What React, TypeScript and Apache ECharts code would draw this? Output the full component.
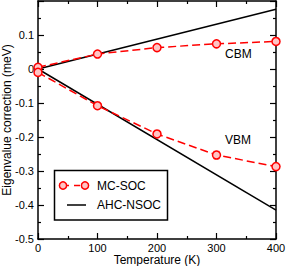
import React, { useEffect, useRef } from "react";
import * as echarts from "echarts";

const temps = [0, 100, 200, 300, 400];
const cbmMC = [0.005, 0.044, 0.063, 0.074, 0.081];
const vbmMC = [-0.01, -0.108, -0.191, -0.253, -0.287];
const vbmErr = [0, 0, 0, 0.01, 0];
const ahcT = [0, 400];
const cbmAHC = [0, 0.176];
const vbmAHC = [0, -0.415];
const legendNames = ["MC-SOC", "AHC-NSOC"];

const font = "Liberation Sans, Arial, Helvetica, sans-serif";

export default function App() {
  const ref = useRef<HTMLDivElement>(null);
  useEffect(() => {
    const chart = echarts.init(ref.current!, null, { renderer: "svg" });
    const red = "#ff0000";
    const pink = "#ffc4c4";
    const mcStyle = (vals: number[]) => ({
      name: legendNames[0],
      type: "line",
      data: temps.map((t, i) => [t, vals[i]]),
      symbol: "circle",
      symbolSize: 8,
      showAllSymbol: true,
      lineStyle: { color: red, width: 1.5, type: [8, 4] },
      itemStyle: { color: pink, borderColor: red, borderWidth: 1.5 },
      z: 3,
    });
    const ahcStyle = (vals: number[]) => ({
      name: legendNames[1],
      type: "line",
      data: ahcT.map((t, i) => [t, vals[i]]),
      symbol: "none",
      lineStyle: { color: "#000", width: 1.5 },
      itemStyle: { color: "#000" },
      z: 2,
    });
    const axisCommon = {
      axisLine: { show: true, onZero: false, lineStyle: { color: "#000", width: 1.5 } },
      axisTick: { show: true, inside: true, length: 6, lineStyle: { color: "#000", width: 1.2 } },
      minorTick: { show: true, splitNumber: 2, length: 3, lineStyle: { color: "#000", width: 1.2 } },
      splitLine: { show: false },
    };
    const r1 = 185.5;
    const r2 = 205;
    chart.setOption({
      animation: false,
      grid: { left: 38, right: 10, top: 1, bottom: 27, outerBoundsMode: "none", containLabel: false },
      xAxis: [
        {
          type: "value",
          min: 0,
          max: 400,
          interval: 100,
          position: "bottom",
          name: "Temperature (K)",
          nameLocation: "middle",
          nameGap: 15,
          nameMoveOverlap: false,
          nameTextStyle: { fontFamily: font, fontSize: 12, lineHeight: 12, color: "#000" },
          axisLabel: { fontFamily: font, fontSize: 11, lineHeight: 11, color: "#000", margin: 3 },
          ...axisCommon,
        },
        {
          type: "value",
          min: 0,
          max: 400,
          interval: 100,
          position: "top",
          axisLabel: { show: false },
          ...axisCommon,
        },
      ],
      yAxis: [
        {
          type: "value",
          min: -0.5,
          max: 0.2,
          interval: 0.1,
          position: "left",
          name: "Eigenvalue correction (meV)",
          nameLocation: "middle",
          nameGap: 25,
          nameMoveOverlap: false,
          nameTextStyle: { fontFamily: font, fontSize: 12, color: "#000" },
          axisLabel: {
            fontFamily: font,
            fontSize: 11,
            color: "#000",
            margin: 4,
            formatter: (v: number) => {
              const r = Math.round(v * 10) / 10;
              if (r >= 0.2) return "";
              if (r === 0) return "0";
              return r.toFixed(1);
            },
          },
          ...axisCommon,
        },
        {
          type: "value",
          min: -0.5,
          max: 0.2,
          interval: 0.1,
          position: "right",
          axisLabel: { show: false },
          ...axisCommon,
        },
      ],
      graphic: [
        { type: "text", left: 225, top: 48, style: { text: "CBM", font: `12px ${font}`, fill: "#000" } },
        { type: "text", left: 225, top: 134, style: { text: "VBM", font: `12px ${font}`, fill: "#000" } },
        {
          type: "rect",
          shape: { x: 54.5, y: 170.5, width: 113, height: 49.5 },
          style: { fill: "#fff", stroke: "#000", lineWidth: 1.5 },
          z: 10,
        },
        {
          type: "line",
          shape: { x1: 63, y1: r1, x2: 85, y2: r1 },
          style: { stroke: red, lineWidth: 1.5, lineDash: [6, 5] },
          z: 11,
        },
        { type: "circle", shape: { cx: 63, cy: r1, r: 3.6 }, style: { fill: pink, stroke: red, lineWidth: 1.5 }, z: 12 },
        { type: "circle", shape: { cx: 85, cy: r1, r: 3.6 }, style: { fill: pink, stroke: red, lineWidth: 1.5 }, z: 12 },
        {
          type: "text",
          x: 97,
          y: r1,
          style: { text: legendNames[0], font: `12px ${font}`, fill: "#000", verticalAlign: "middle" },
          z: 12,
        },
        {
          type: "line",
          shape: { x1: 67, y1: r2, x2: 86, y2: r2 },
          style: { stroke: "#000", lineWidth: 1.5 },
          z: 11,
        },
        {
          type: "text",
          x: 97,
          y: r2,
          style: { text: legendNames[1], font: `12px ${font}`, fill: "#000", verticalAlign: "middle" },
          z: 12,
        },
      ],
      series: [
        ahcStyle(cbmAHC),
        ahcStyle(vbmAHC),
        mcStyle(cbmMC),
        mcStyle(vbmMC),
        {
          type: "custom",
          data: temps.map((t, i) => [t, vbmMC[i], vbmErr[i]]).filter((d) => d[2] > 0),
          renderItem: (params: any, api: any) => {
            const x = api.value(0);
            const y = api.value(1);
            const e = api.value(2);
            const p1 = api.coord([x, y + e]);
            const p2 = api.coord([x, y - e]);
            return {
              type: "group",
              children: [
                { type: "line", shape: { x1: p1[0], y1: p1[1], x2: p2[0], y2: p2[1] }, style: { stroke: red, lineWidth: 1.5 } },
                { type: "line", shape: { x1: p1[0] - 3, y1: p1[1], x2: p1[0] + 3, y2: p1[1] }, style: { stroke: red, lineWidth: 1.5 } },
                { type: "line", shape: { x1: p2[0] - 3, y1: p2[1], x2: p2[0] + 3, y2: p2[1] }, style: { stroke: red, lineWidth: 1.5 } },
              ],
            };
          },
          z: 1,
        },
      ],
    });
    return () => chart.dispose();
  }, []);
  return <div ref={ref} style={{ width: 286, height: 266, position: "absolute", left: 0, top: 0 }} />;
}
